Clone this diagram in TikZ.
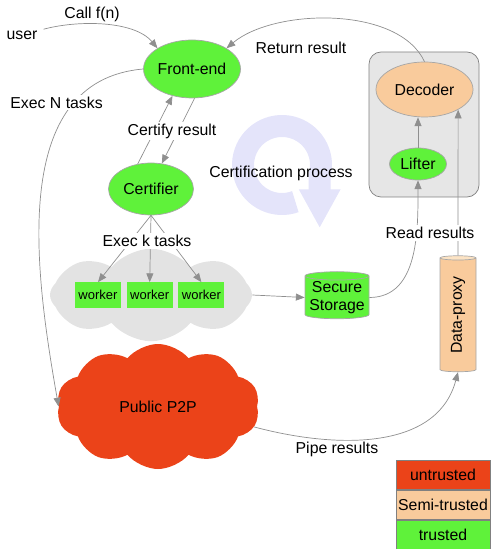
\documentclass[tikz,border=0pt]{standalone}
\usepackage{fontspec}
\setmainfont{Liberation Sans}
\usetikzlibrary{positioning,shapes.geometric,shapes.symbols,arrows.meta}

\definecolor{cGreen}{HTML}{5FF23A}
\definecolor{cSemi}{HTML}{F9CB9C}
\definecolor{cSemiTop}{HTML}{FCE3C4}
\definecolor{cRed}{HTML}{EB4319}
\definecolor{cCloud}{HTML}{E3E3E3}
\definecolor{cBox}{HTML}{E6E6E6}
\definecolor{cLine}{HTML}{8F8F8F}
\definecolor{cLav}{HTML}{E4E4FA}

\begin{document}
\begin{tikzpicture}[font=\fontsize{9}{10.5}\selectfont,
    trusted/.style={fill=cGreen},
    semitrusted/.style={fill=cSemi},
    untrusted/.style={fill=cRed}]
	\useasboundingbox (0,0) rectangle (9.8,-10.98);

	% certification process
	\draw[cLav, line width=0.44cm, -{Triangle[length=22pt 0 0,width=22pt 0 0]}]
		(5.907,-4.033) arc[start angle=-70, end angle=-375, radius=0.78] -- ++(0.0,-1.06);
	\node (CP) at (5.62,-3.46) {Certification process};

	\begin{scope}[every node/.style={cloud, cloud puff arc=100, cloud ignores aspect} ]
		\node[cloud puffs=8, fill=cCloud, minimum width=4.04cm, minimum height=1.85cm] (GC) at (3.02,-5.90) {};
		\node[cloud puffs=10, untrusted, minimum width=4.06cm, minimum height=2.5cm] (P2P) at (3.16,-8.13) {Public P2P};
	\end{scope}

	\node[draw=gray, fill=cBox, rounded corners=0.24cm, minimum width=2.2cm, minimum height=2.9cm] (BX) at (8.48,-2.49) {};

	\begin{scope}[every node/.style={ellipse, draw=gray!70, inner sep=0pt} ]
		\node[trusted, minimum width=1.92cm, minimum height=1.16cm] (FE) at (3.84,-1.38) {Front-end};
		\node[trusted, minimum width=1.70cm, minimum height=1.04cm] (CE) at (3.02,-3.78) {Certifier};
		\node[trusted, minimum width=1.14cm, minimum height=0.64cm] (LI) at (8.36,-3.28) {Lifter};
		\node[semitrusted, minimum width=1.94cm, minimum height=1.10cm] (DE) at (8.49,-1.79) {Decoder};
	\end{scope}

	\begin{scope}[every node/.style={trusted, minimum width=0.92cm, minimum height=0.50cm, inner sep=0pt, font=\fontsize{7.4}{9}\selectfont} ]
		\node (W1) at (1.96,-5.90) {worker};
		\node[right=0.1cm of W1] (W2) {worker};
		\node[right=0.1cm of W2] (W3) {worker};
	\end{scope}

	\node[cylinder, shape border rotate=90, aspect=0.15, trusted, draw=gray!70, inner sep=0pt, align=center,
		minimum width=1.28cm, minimum height=0.94cm] (SS) at (6.74,-5.95) {Secure\\Storage};
	\node[cylinder, rotate=90, aspect=0.3, draw=gray!70, cylinder uses custom fill, cylinder body fill=cSemi,
		cylinder end fill=cSemiTop, inner sep=0pt, minimum width=0.72cm, minimum height=2.32cm] (DP) at (9.16,-6.30) {Data-proxy};

	\node (U) at (0.44,-0.70) {user};

	\begin{scope}[every node/.style={draw=gray, minimum width=1.88cm, minimum height=0.59cm, inner sep=0pt}, node distance=0pt]
		\node[untrusted] (L1) at (8.86,-9.495) {untrusted};
		\node[semitrusted, below=of L1] (L2) {Semi-trusted};
		\node[trusted, below=of L2] (L3) {trusted};
	\end{scope}

	\begin{scope}[>={Triangle[length=5pt,width=4pt]},
              every node/.style={fill=white, inner sep=1pt},
              every edge/.style={draw=cLine, thin}]
		\path [->] (U) edge[out=15, in=130, looseness=0.8] node[above, fill=none, pos=0.4] {Call f(n)} (FE.north west);
		\path [->] (DE.north) edge[out=115, in=40, looseness=0.8] (FE.north east);
		\node[fill=none] (RR) at (6.02,-0.96) {Return result};
		\path [->] (CE.118) edge (FE.234);
		\path [->] (FE.275) edge (CE.67);
		\node (CR) at (3.44,-2.62) {Certify result};
		\path [->] (FE.west) edge[out=185, in=100] node[pos=0.23, xshift=-0.34cm] {Exec N tasks} (P2P.west);
		\path [->] (CE.south) edge (W1.north) edge (W2.north) edge (W3.north);
		\node (EK) at (2.94,-4.82) {Exec k tasks};
		\path [->] (GC.east) edge (SS.west);
		\path [->] (SS.east) edge[out=0, in=-90] (LI.south);
		\path [->] (LI.north) edge (LI.north |- DE.south);
		\path [->] (DP.east) edge (DE.-31);
		\node (RD) at (8.60,-4.66) {Read results};
		\path [->] (P2P.-12) edge[out=-15, in=-105] (DP.west);
		\node[fill=none] (PR) at (6.74,-8.98) {Pipe results};
	\end{scope}
\end{tikzpicture}
\end{document}
